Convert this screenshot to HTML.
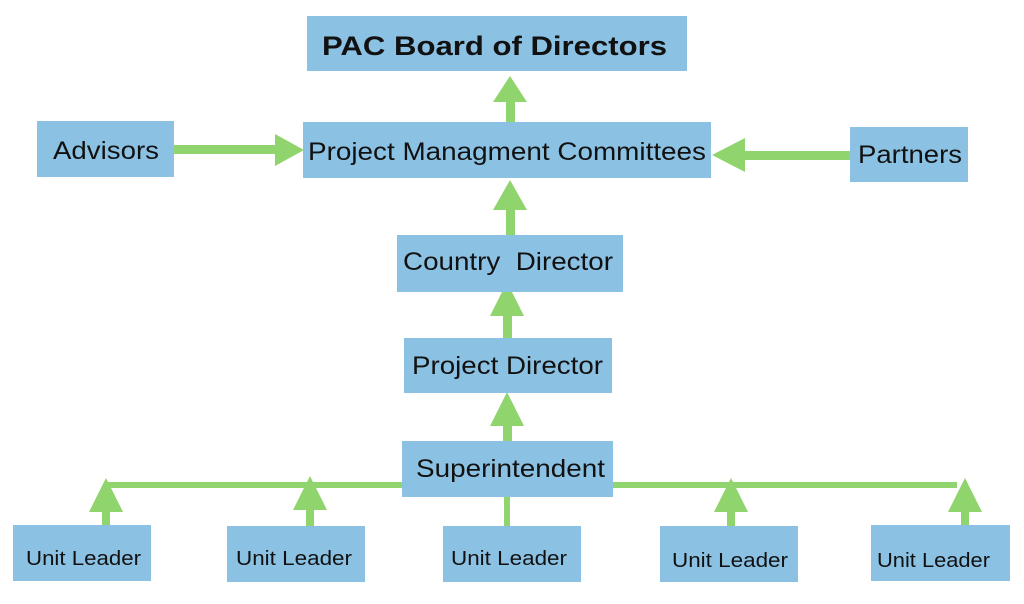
<!DOCTYPE html>
<html><head><style>
body{margin:0;background:#fff;width:1024px;height:604px;overflow:hidden}
svg{display:block}
text{font-family:"Liberation Sans",sans-serif;fill:#111;dominant-baseline:central}
rect{fill:#8bc1e3}
</style></head><body>
<svg width="1024" height="604" viewBox="0 0 1024 604">
<g fill="#8fd46c" stroke="none">
<rect x="506" y="98" width="9" height="26" style="fill:#8fd46c"/>
<polygon points="510,76 493,102 527,102"/>
<rect x="172" y="145" width="106" height="9" style="fill:#8fd46c"/>
<polygon points="304,150 275,134 275,166"/>
<rect x="742" y="151" width="110" height="9" style="fill:#8fd46c"/>
<polygon points="712,155 745,138 745,172"/>
<rect x="506" y="205" width="9" height="32" style="fill:#8fd46c"/>
<polygon points="510,180 493,210 527,210"/>
<rect x="503" y="312" width="9" height="28" style="fill:#8fd46c"/>
<polygon points="507,282 490,316 524,316"/>
<rect x="503" y="420" width="9" height="23" style="fill:#8fd46c"/>
<polygon points="507,392 490,426 524,426"/>
<rect x="104" y="482" width="853" height="6" style="fill:#8fd46c"/>
<rect x="504" y="495" width="6" height="31" style="fill:#8fd46c"/>
<rect x="102" y="505" width="8" height="21" style="fill:#8fd46c"/>
<polygon points="106,478 89,512 123,512"/>
<rect x="306" y="505" width="8" height="22" style="fill:#8fd46c"/>
<polygon points="310,476 293,510 327,510"/>
<rect x="727" y="505" width="8" height="22" style="fill:#8fd46c"/>
<polygon points="731,478 714,512 748,512"/>
<rect x="961" y="505" width="8" height="22" style="fill:#8fd46c"/>
<polygon points="965,478 948,512 982,512"/>
</g>
<rect x="307" y="16" width="380" height="55"/>
<text x="322" y="46" font-size="27" font-weight="bold" textLength="345" lengthAdjust="spacingAndGlyphs">PAC Board of Directors</text>
<rect x="37" y="121" width="137" height="56"/>
<text x="53" y="151" font-size="25" textLength="106" lengthAdjust="spacingAndGlyphs">Advisors</text>
<rect x="303" y="122" width="408" height="56"/>
<text x="308" y="152" font-size="25" textLength="398" lengthAdjust="spacingAndGlyphs">Project Managment Committees</text>
<rect x="850" y="127" width="118" height="55"/>
<text x="858" y="155" font-size="25" textLength="104" lengthAdjust="spacingAndGlyphs">Partners</text>
<rect x="397" y="235" width="226" height="57"/>
<text x="403" y="262" font-size="25" textLength="210" lengthAdjust="spacingAndGlyphs" style="white-space:pre">Country  Director</text>
<rect x="404" y="338" width="208" height="55"/>
<text x="412" y="366" font-size="25" textLength="191" lengthAdjust="spacingAndGlyphs">Project Director</text>
<rect x="402" y="441" width="211" height="56"/>
<text x="416" y="469" font-size="25" textLength="189" lengthAdjust="spacingAndGlyphs">Superintendent</text>
<g font-size="20">
<rect x="13" y="525" width="138" height="56"/>
<text x="26" y="559" textLength="115" lengthAdjust="spacingAndGlyphs">Unit Leader</text>
<rect x="227" y="526" width="138" height="56"/>
<text x="236" y="559" textLength="116" lengthAdjust="spacingAndGlyphs">Unit Leader</text>
<rect x="443" y="526" width="138" height="56"/>
<text x="451" y="559" textLength="116" lengthAdjust="spacingAndGlyphs">Unit Leader</text>
<rect x="660" y="526" width="138" height="56"/>
<text x="672" y="561" textLength="116" lengthAdjust="spacingAndGlyphs">Unit Leader</text>
<rect x="871" y="525" width="139" height="56"/>
<text x="877" y="561" textLength="113" lengthAdjust="spacingAndGlyphs">Unit Leader</text>
</g>
</svg>
</body></html>
